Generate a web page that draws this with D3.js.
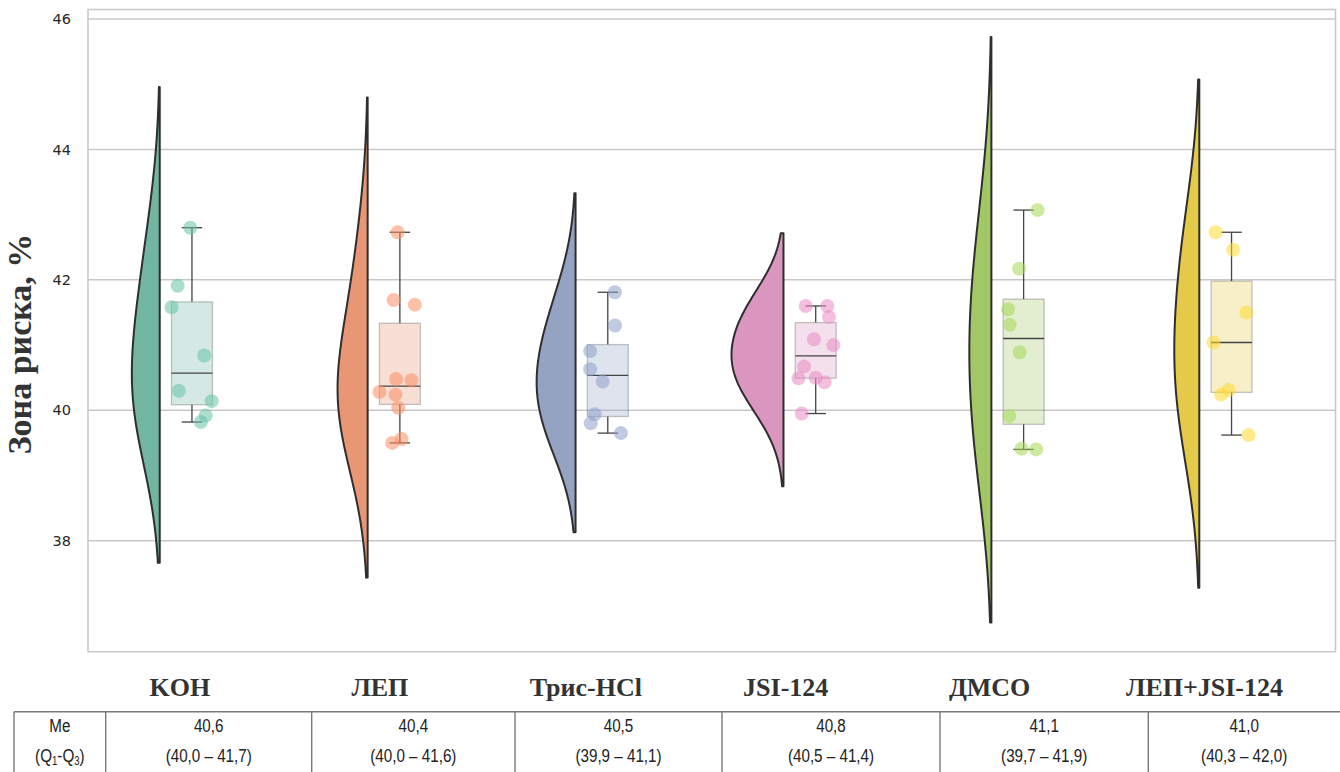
<!DOCTYPE html>
<html>
<head>
<meta charset="utf-8">
<script src="https://cdn.jsdelivr.net/npm/d3@7"></script>
<style>
body { margin: 0; background: #fff; }
svg { display: block; }
</style>
</head>
<body>
<svg width="1340" height="772"></svg>
<script>
var groups = ['KOH', 'ЛЕП', 'Трис-HCl', 'JSI-124', 'ДМСО', 'ЛЕП+JSI-124'];
var kohValues = [42.80, 41.91, 41.58, 40.84, 40.30, 40.14, 39.92, 39.82];
var lepValues = [42.73, 41.69, 41.62, 40.48, 40.46, 40.28, 40.24, 40.04, 39.56, 39.50];
var trisValues = [41.81, 41.30, 40.91, 40.63, 40.44, 39.94, 39.80, 39.65];
var jsiValues = [41.60, 41.60, 41.43, 41.09, 41.00, 40.67, 40.49, 40.50, 40.43, 39.95];
var dmsoValues = [43.07, 42.17, 41.55, 41.31, 40.89, 39.91, 39.41, 39.40];
var lepJsiValues = [42.73, 42.46, 41.50, 41.04, 40.31, 40.24, 39.62];

// strip jitter of each point (fraction of category step)
var kohJitter = [-0.008, -0.069, -0.098, 0.059, -0.063, 0.095, 0.066, 0.043];
var lepJitter = [-0.011, -0.030, 0.072, -0.018, 0.056, -0.098, -0.021, -0.008, 0.008, -0.037];
var trisJitter = [0.034, 0.035, -0.085, -0.085, -0.025, -0.063, -0.082, 0.063];
var jsiJitter = [-0.048, 0.056, 0.064, -0.008, 0.085, -0.056, -0.083, 0.000, 0.043, -0.067];
var dmsoJitter = [0.067, -0.022, -0.075, -0.067, -0.019, -0.069, -0.010, 0.060];
var lepJsiJitter = [-0.077, 0.008, 0.071, -0.087, -0.014, -0.050, 0.082];

var yTicks = [38, 40, 42, 44, 46];
var medianLabels = ['40,6', '40,4', '40,5', '40,8', '41,1', '41,0'];
var rangeLabels = ['(40,0 – 41,7)', '(40,0 – 41,6)', '(39,9 – 41,1)', '(40,5 – 41,4)', '(39,7 – 41,9)', '(40,3 – 42,0)'];

var palette = ['#66c2a5', '#fc8d62', '#8da0cb', '#e78ac3', '#a6d854', '#ffd92f'];

var allValues = [kohValues, lepValues, trisValues, jsiValues, dmsoValues, lepJsiValues];
var allJitter = [kohJitter, lepJitter, trisJitter, jsiJitter, dmsoJitter, lepJsiJitter];

var svg = d3.select('svg');
var plot = {l: 88, t: 9.5, r: 1335.5, b: 651.7};

var xScale = d3.scaleBand().domain(groups).range([plot.l, plot.r]);
var yScale = d3.scaleLinear().domain([36.298, 46.146]).range([plot.b, plot.t]);
var step = xScale.step();

function desat(c) {
    var h = d3.hsl(c);
    h.s *= 0.75;
    return h.formatHex();
}

// gaussian kde, bandwidth = sd, cut = 2
function kde(values) {
    var bw = d3.deviation(values);
    var lo = d3.min(values) - 2 * bw, hi = d3.max(values) + 2 * bw;
    return d3.range(100).map(function(i) {
        var v = lo + (hi - lo) * i / 99;
        var dens = d3.mean(values, function(xi) {
            var z = (v - xi) / bw;
            return Math.exp(-0.5 * z * z);
        }) / (bw * Math.sqrt(2 * Math.PI));
        return [v, dens];
    });
}

var kdes = allValues.map(kde);
var maxDens = d3.max(kdes, function(k) { return d3.max(k, function(d) { return d[1]; }); });
var wScale = d3.scaleLinear().domain([0, maxDens]).range([0, 52]);

// grid + frame
svg.append('g').selectAll('line')
    .data(yTicks)
    .enter().append('line')
    .attr('x1', plot.l).attr('x2', plot.r)
    .attr('y1', function(d) { return yScale(d); })
    .attr('y2', function(d) { return yScale(d); })
    .attr('stroke', '#c8c8c8').attr('stroke-width', 1.5);

svg.append('rect')
    .attr('x', plot.l).attr('y', plot.t)
    .attr('width', plot.r - plot.l).attr('height', plot.b - plot.t)
    .attr('fill', 'none').attr('stroke', '#c8c8c8').attr('stroke-width', 1.5);

var yAxis = d3.axisLeft(yScale).tickValues(yTicks).tickSize(0).tickPadding(17);
var yAxisG = svg.append('g')
    .attr('transform', 'translate(' + plot.l + ',0)')
    .call(yAxis);
yAxisG.select('.domain').remove();
yAxisG.selectAll('text')
    .attr('font-family', 'DejaVu Sans, sans-serif')
    .attr('font-size', 14.5)
    .attr('fill', '#262626');

svg.append('text')
    .attr('transform', 'translate(31,344) rotate(-90)')
    .attr('text-anchor', 'middle')
    .attr('font-family', 'Liberation Serif, serif')
    .attr('font-weight', 'bold')
    .attr('font-size', 34)
    .attr('fill', '#333')
    .text('Зона риска, %');

var violinOffset = -0.155 * step;
var boxWidth = 0.197 * step;

groups.forEach(function(g, i) {
    var cx = xScale(g) + step / 2;
    var flat = cx + violinOffset;
    var values = allValues[i];
    var col = palette[i];
    var gG = svg.append('g');

    var area = d3.area()
        .y(function(d) { return yScale(d[0]); })
        .x0(flat)
        .x1(function(d) { return flat - wScale(d[1]); });
    gG.append('path')
        .datum(kdes[i])
        .attr('d', function(d) { return area(d) + 'Z'; })
        .attr('fill', desat(col))
        .attr('stroke', '#2e2e2e')
        .attr('stroke-width', 2)
        .attr('stroke-linejoin', 'round');

    var sorted = values.slice().sort(d3.ascending);
    var q1 = d3.quantile(sorted, 0.25), med = d3.quantile(sorted, 0.5), q3 = d3.quantile(sorted, 0.75);
    var iqr = q3 - q1;
    var wLo = d3.min(sorted.filter(function(v) { return v >= q1 - 1.5 * iqr; }));
    var wHi = d3.max(sorted.filter(function(v) { return v <= q3 + 1.5 * iqr; }));

    gG.append('line')
        .attr('x1', cx).attr('x2', cx)
        .attr('y1', yScale(wHi)).attr('y2', yScale(q3))
        .attr('stroke', '#444').attr('stroke-width', 1.3);
    gG.append('line')
        .attr('x1', cx).attr('x2', cx)
        .attr('y1', yScale(q1)).attr('y2', yScale(wLo))
        .attr('stroke', '#444').attr('stroke-width', 1.3);
    [wHi, wLo].forEach(function(v) {
        gG.append('line')
            .attr('x1', cx - boxWidth / 4).attr('x2', cx + boxWidth / 4)
            .attr('y1', yScale(v)).attr('y2', yScale(v))
            .attr('stroke', '#444').attr('stroke-width', 1.3);
    });

    gG.append('rect')
        .attr('x', cx - boxWidth / 2).attr('width', boxWidth)
        .attr('y', yScale(q3)).attr('height', yScale(q1) - yScale(q3))
        .attr('fill', desat(col)).attr('fill-opacity', 0.3)
        .attr('stroke', 'rgba(70,70,70,0.3)').attr('stroke-width', 1.3);

    gG.append('line')
        .attr('x1', cx - boxWidth / 2).attr('x2', cx + boxWidth / 2)
        .attr('y1', yScale(med)).attr('y2', yScale(med))
        .attr('stroke', '#444').attr('stroke-width', 1.4);

    gG.selectAll('circle')
        .data(values)
        .enter().append('circle')
        .attr('cx', function(d, j) { return cx + allJitter[i][j] * step; })
        .attr('cy', function(d) { return yScale(d); })
        .attr('r', 7)
        .attr('fill', col)
        .attr('fill-opacity', 0.55);
});

// category labels under the plot (hand placed in the source, px nudge)
var labelNudge = [-12, -20, -22, -30, -34, -27];
svg.append('g').selectAll('text')
    .data(groups)
    .enter().append('text')
    .attr('x', function(d, i) { return xScale(d) + step / 2 + labelNudge[i]; })
    .attr('y', 696)
    .attr('text-anchor', 'middle')
    .attr('font-family', 'Liberation Serif, serif')
    .attr('font-weight', 'bold')
    .attr('font-size', 26)
    .attr('fill', '#333')
    .text(function(d) { return d; });

// table Me (Q1-Q3)
var tableTop = 711.7;
var colEdges = [14, 105.7, 311.7, 515, 722, 940, 1148.3];
var tableFont = 'Liberation Sans, Arial, sans-serif';
var tG = svg.append('g');
tG.append('line')
    .attr('x1', 14).attr('x2', 1340)
    .attr('y1', tableTop).attr('y2', tableTop)
    .attr('stroke', '#7a7a7a').attr('stroke-width', 1.6);
tG.selectAll('line.v')
    .data(colEdges)
    .enter().append('line')
    .attr('class', 'v')
    .attr('x1', function(d) { return d; }).attr('x2', function(d) { return d; })
    .attr('y1', tableTop).attr('y2', 772)
    .attr('stroke', '#7a7a7a').attr('stroke-width', 1.4);

// narrow font look: squeeze horizontally
function cellText(x, y) {
    return tG.append('text')
        .attr('transform', 'translate(' + x + ',' + y + ') scale(0.8,1)')
        .attr('text-anchor', 'middle')
        .attr('font-family', tableFont).attr('font-size', 19).attr('fill', '#222');
}

var meX = (colEdges[0] + colEdges[1]) / 2;
cellText(meX, 732).text('Me');
var qText = cellText(meX, 762);
qText.append('tspan').text('(Q');
qText.append('tspan').attr('font-size', 12).attr('dy', 3).text('1');
qText.append('tspan').attr('dy', -3).text('-Q');
qText.append('tspan').attr('font-size', 12).attr('dy', 3).text('3');
qText.append('tspan').attr('dy', -3).text(')');

groups.forEach(function(g, i) {
    var right = i + 2 < colEdges.length ? colEdges[i + 2] : 1340;
    var mid = (colEdges[i + 1] + right) / 2;
    cellText(mid, 732).text(medianLabels[i]);
    cellText(mid, 762).text(rangeLabels[i]);
});
</script>
</body>
</html>
